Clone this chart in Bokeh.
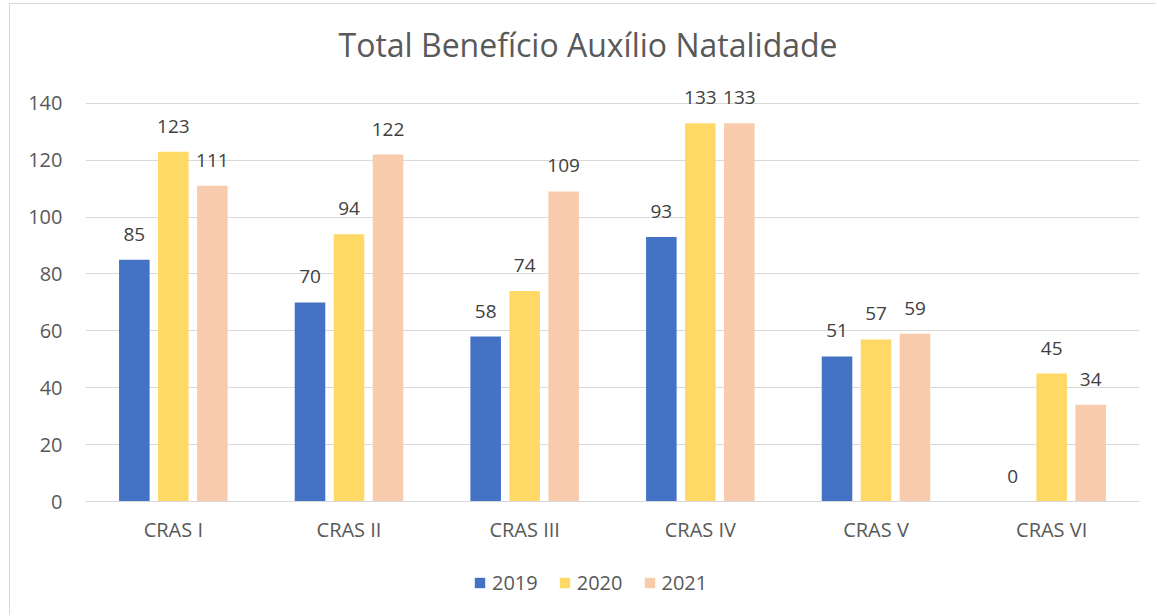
from bokeh.plotting import figure
from bokeh.layouts import column
from bokeh.models import ColumnDataSource, FactorRange, Range1d, FixedTicker, LabelSet, Legend, LegendItem
from bokeh.core.properties import value
from bokeh.transform import dodge
from bokeh.embed import file_html
from bokeh.resources import INLINE

categories = ["CRAS I", "CRAS II", "CRAS III", "CRAS IV", "CRAS V", "CRAS VI"]
years = ["2019", "2020", "2021"]
v2019 = [85, 70, 58, 93, 51, 0]
v2020 = [123, 94, 74, 133, 57, 45]
v2021 = [111, 122, 109, 133, 59, 34]
colors = ["#4472C4", "#FFD966", "#F8CBAD"]
y_ticks = [0, 20, 40, 60, 80, 100, 120, 140]

FONT = "Open Sans"
GRAY = "#595959"
BORDER = "1px solid #d9d9d9"

src = ColumnDataSource(dict(cat=categories, y2019=v2019, y2020=v2020, y2021=v2021,
                            t2019=[str(v) for v in v2019],
                            t2020=[str(v) for v in v2020],
                            t2021=[str(v) for v in v2021]))

p = figure(width=1147, height=556, x_range=FactorRange(*categories, range_padding=0),
           y_range=Range1d(0, 154), output_backend="svg", toolbar_location=None,
           min_border_left=75, min_border_right=18, min_border_top=59, min_border_bottom=59,
           margin=(3, 0, 0, 9), styles={"border-left": BORDER, "border-top": BORDER})
p.x_range.factor_padding = 0
p.outline_line_color = None
p.background_fill_color = "white"
p.border_fill_color = "white"

p.title.text = "Total Benefício Auxílio Natalidade"
p.title.align = "left"
p.title.offset = 253
p.title.standoff = -4
p.title.text_font = FONT
p.title.text_font_size = "32px"
p.title.text_font_style = "normal"
p.title.text_color = GRAY

offsets = [-0.222, 0.0, 0.222]
for yr, off, col in zip(years, offsets, colors):
    p.vbar(x=dodge("cat", off, range=p.x_range), top="y" + yr, width=0.174,
           source=src, color=col, line_color=None)
    lbl = LabelSet(x=dodge("cat", off, range=p.x_range), y="y" + yr, text="t" + yr,
                   source=src, text_align="center", text_baseline="alphabetic",
                   y_offset=19, text_font=value(FONT), text_font_size=value("19px"),
                   text_color=value("#404040"))
    p.add_layout(lbl)

p.yaxis.ticker = FixedTicker(ticks=y_ticks)
p.ygrid.ticker = FixedTicker(ticks=y_ticks)
p.ygrid.grid_line_color = "#d9d9d9"
p.xgrid.grid_line_color = None
p.yaxis.axis_line_color = None
p.yaxis.major_tick_line_color = None
p.yaxis.minor_tick_line_color = None
p.yaxis.major_label_standoff = 17
p.yaxis.major_label_text_font = FONT
p.yaxis.major_label_text_font_size = "20px"
p.yaxis.major_label_text_color = GRAY

p.xaxis.axis_line_color = "#d9d9d9"
p.xaxis.major_tick_line_color = None
p.xaxis.minor_tick_line_color = None
p.xaxis.major_label_standoff = 8
p.xaxis.major_label_text_font = FONT
p.xaxis.major_label_text_font_size = "20px"
p.xaxis.major_label_text_color = GRAY

# legend strip below the chart
q = figure(width=1147, height=56, x_range=Range1d(0, 1), y_range=Range1d(0, 1),
           output_backend="svg", toolbar_location=None,
           x_axis_location=None, y_axis_location=None,
           min_border_left=0, min_border_right=0, min_border_top=0, min_border_bottom=0,
           margin=(0, 0, 0, 9), styles={"border-left": BORDER})
q.outline_line_color = None
q.xgrid.grid_line_color = None
q.ygrid.grid_line_color = None
dummies = [q.vbar(x=[5], top=[5], bottom=[4], width=0.1, color=col, line_color=None) for col in colors]
legend = Legend(items=[LegendItem(label=yr, renderers=[r]) for yr, r in zip(years, dummies)],
                orientation="horizontal", location=(388, 19),
                glyph_width=13, glyph_height=13, label_standoff=6, spacing=20,
                label_text_font=FONT, label_text_font_size="20px", label_text_color=GRAY,
                border_line_color=None, background_fill_alpha=0, padding=6, margin=0)
q.add_layout(legend, "center")

layout = column(p, q, spacing=0)
open("out.html", "w").write(file_html(layout, INLINE))
